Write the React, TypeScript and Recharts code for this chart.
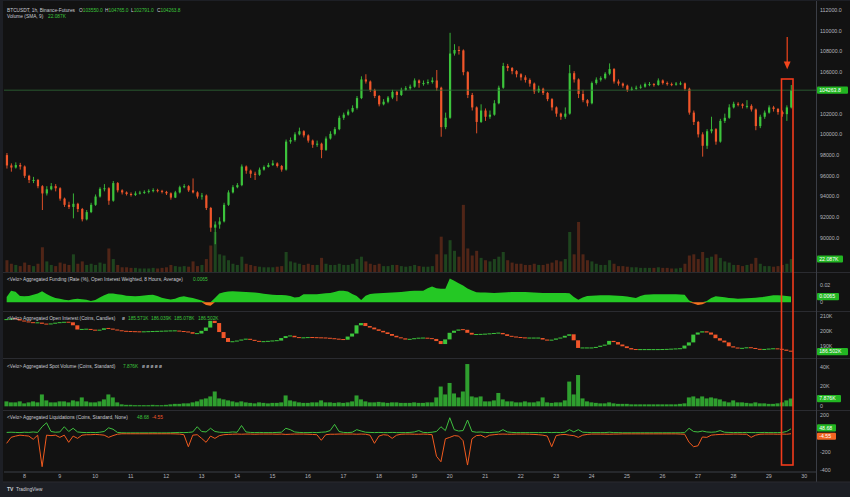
import React from 'react';
import { ComposedChart, Bar, Area, Line, XAxis, YAxis, ReferenceLine } from 'recharts';

// ---------- data (3-hour steps) ----------
const FIRST_OPEN = 98000;
const START_DAY = 7.5;
const STEP_DAY = 0.125;

const closes = [
  97000, 96800, 97040, 96900, 96000, 95600, 95600, 95000, 94300, 94700,
  95000, 94800, 93800, 93200, 93000, 93300, 92800, 91800, 92500, 93200,
  94000, 94750, 94800, 93600, 95300, 94600, 94400, 94250, 94150, 94300,
  94380, 94450, 94550, 94620, 94550, 94450, 94310, 93900, 94400, 94900,
  95000, 94600, 94400, 94000, 94100, 92900, 91000, 91300, 91600, 93200,
  94400, 94900, 95100, 96900, 96500, 96200, 96100, 96600, 96850, 97050,
  97200, 96950, 96600, 99300, 99450, 100000, 100300, 99900, 99400, 99000,
  99100, 98500, 99600, 100050, 100500, 101600, 101900, 102200, 102550, 103500,
  105300, 105100, 104280, 103700, 102900, 103150, 103550, 104100, 103800, 104300,
  104450, 104600, 105200, 104950, 104950, 105050, 105200, 104500, 100700, 101600,
  107800, 108140, 108100, 106000, 103800, 102600, 101200, 102300, 101700, 101900,
  103000, 104500, 106600, 106400, 106100, 105800, 105500, 105250, 104900, 104150,
  104400, 104000, 103400, 102600, 102000, 101700, 102000, 105900, 105300, 103900,
  103300, 103000, 104950, 105280, 105420, 105850, 106300, 105100, 104900, 104700,
  104300, 104400, 104500, 104600, 104850, 104850, 104760, 105200, 104950, 104850,
  104800, 104900, 104920, 104400, 102100, 101200, 100000, 98900, 100300, 100500,
  99300, 101300, 101600, 102600, 102950, 102900, 102750, 102750, 102400, 100800,
  101700, 102100, 102600, 102450, 102150, 101950, 102600, 104263.8,
];

const highs = [
  98200, 97200, 97300, 97250, 97000, 96100, 95900, 95700, 95100, 95000,
  95300, 95200, 94900, 93900, 93500, 94300, 93400, 92900, 92700, 93400,
  94200, 94900, 95200, 94900, 95500, 95400, 94700, 94500, 94400, 94500,
  94550, 94600, 94700, 94800, 94750, 94650, 94550, 94400, 94550, 95050,
  95200, 95100, 95750, 94500, 94350, 94200, 93000, 91600, 92000, 93400,
  94600, 95100, 95300, 97100, 97000, 96600, 96400, 96800, 97000, 97250,
  97500, 97300, 97050, 99500, 99700, 100200, 100650, 100400, 100000, 99500,
  99400, 99200, 99800, 100300, 100700, 101800, 102100, 102400, 102800, 103700,
  105600, 105800, 105200, 104400, 103800, 103400, 103700, 104300, 104200, 104500,
  104650, 104800, 105400, 105300, 105200, 105300, 105500, 106210, 104600, 102100,
  109800, 108700, 108500, 108200, 106100, 104000, 102700, 102900, 102500, 102300,
  103300, 104700, 106900, 106800, 106500, 106200, 105900, 105700, 105400, 105000,
  104700, 104500, 104100, 103500, 102700, 102100, 102600, 106700, 106100, 105400,
  104300, 103400, 105100, 105500, 105600, 106000, 106850, 106400, 105300, 105000,
  104800, 104600, 104700, 104800, 105000, 105050, 104950, 105400, 105300, 105100,
  105000, 105050, 105100, 105000, 104500, 102300, 101300, 100200, 100500, 101700,
  100600, 101500, 102000, 102900, 103150, 103100, 103000, 103300, 102900, 102500,
  101900, 102300, 102800, 102750, 102550, 102300, 102800, 104765,
];

const lows = [
  96700, 96400, 96700, 96600, 95800, 95300, 95300, 94800, 92700, 94100,
  94600, 94500, 93600, 93000, 92800, 91900, 92500, 91600, 91700, 92400,
  93100, 93900, 94500, 93200, 93500, 94400, 94200, 94100, 94000, 94050,
  94200, 94250, 94300, 94400, 94400, 94300, 94150, 93700, 93850, 94300,
  94800, 94450, 94300, 93800, 93700, 92700, 90600, 89400, 90900, 91500,
  93100, 94300, 94800, 95000, 96200, 95800, 95600, 96000, 96500, 96800,
  96950, 96800, 96400, 96500, 99100, 99300, 99900, 99700, 99200, 98700,
  98800, 97700, 98400, 99500, 99900, 100400, 101400, 101800, 102100, 102400,
  103400, 104900, 104100, 103500, 102700, 102800, 103000, 103400, 103200, 103700,
  104200, 104300, 104500, 104500, 104700, 104800, 104900, 104200, 99770, 100500,
  101500, 107600, 107700, 105700, 103500, 102300, 100100, 101100, 101300, 101500,
  101800, 102900, 104400, 106100, 105800, 105500, 105200, 105000, 104600, 103900,
  104000, 103800, 103200, 102300, 101700, 101400, 101500, 101900, 105000, 103500,
  103100, 102700, 102900, 104800, 105100, 105300, 105700, 104900, 104700, 104500,
  104100, 104200, 104300, 104400, 104500, 104650, 104600, 104700, 104800, 104700,
  104650, 104700, 104750, 104200, 101900, 100900, 99700, 97850, 98600, 100100,
  99000, 99200, 101100, 101500, 102500, 102700, 102500, 102500, 102200, 100400,
  100600, 101500, 102000, 102200, 101900, 101700, 101300, 102500,
];

// volume, thousands of BTC
const volumes = [
  20, 14, 12, 10, 16, 12, 10, 14, 42, 18,
  12, 10, 16, 14, 12, 30, 14, 18, 12, 14,
  12, 16, 14, 40, 22, 12, 8, 8, 7, 7,
  6, 6, 6, 7, 6, 7, 8, 12, 10, 9,
  10, 9, 18, 10, 12, 22, 45, 68, 30, 28,
  20, 14, 12, 26, 14, 12, 10, 9, 8, 8,
  8, 9, 10, 34, 18, 16, 14, 12, 14, 12,
  12, 24, 14, 12, 12, 14, 12, 12, 14, 22,
  26, 18, 14, 12, 14, 10, 10, 12, 12, 10,
  9, 10, 12, 10, 9, 9, 10, 30, 60, 30,
  54, 36, 26, 114, 40, 28, 36, 24, 20, 18,
  22, 26, 34, 20, 16, 14, 14, 12, 12, 14,
  12, 12, 14, 16, 20, 18, 22, 68, 30, 85,
  30, 20, 18, 14, 12, 12, 20, 14, 10, 10,
  9, 8, 8, 7, 7, 7, 7, 8, 7, 7,
  6, 6, 7, 14, 28, 30, 22, 34, 24, 26,
  30, 24, 18, 16, 12, 12, 10, 12, 14, 24,
  14, 10, 10, 9, 10, 12, 14, 22,
];

// funding rate, %
const funding = [
  0.006, 0.013, 0.012, 0.007, 0.0068, 0.0072, 0.0086, 0.01, 0.0125, 0.0095,
  0.0068, 0.005, 0.004, 0.0028, 0.0023, 0.0035, 0.004, 0.0035, 0.003, 0.0015,
  0.0025, 0.0055, 0.008, 0.01, 0.01, 0.009, 0.0085, 0.0075, 0.007, 0.0068,
  0.0072, 0.0078, 0.0082, 0.0086, 0.007, 0.0052, 0.004, 0.0032, 0.004, 0.006,
  0.0068, 0.0058, 0.0049, 0.0035, 0.002, -0.003, -0.004, 0.005, 0.01, 0.0115,
  0.0122, 0.0125, 0.0122, 0.012, 0.0117, 0.0114, 0.011, 0.0106, 0.0098, 0.0092,
  0.0086, 0.0084, 0.0082, 0.0079, 0.007, 0.0055, 0.006, 0.0091, 0.0091, 0.0091,
  0.0091, 0.0098, 0.0102, 0.0106, 0.0118, 0.013, 0.013, 0.0122, 0.0095, 0.007,
  0.0025, 0.0075, 0.0095, 0.01, 0.0103, 0.0106, 0.0109, 0.0112, 0.0115, 0.0117,
  0.0122, 0.0128, 0.0132, 0.0132, 0.0132, 0.016, 0.018, 0.016, 0.0155, 0.0155,
  0.027, 0.0245, 0.0215, 0.019, 0.0158, 0.0135, 0.0115, 0.0112, 0.011, 0.0108,
  0.0106, 0.0108, 0.011, 0.0115, 0.0117, 0.0117, 0.0117, 0.0117, 0.0115, 0.0112,
  0.0108, 0.0106, 0.0106, 0.0106, 0.0106, 0.0106, 0.0106, 0.0104, 0.006, 0.003,
  0.0055, 0.007, 0.0074, 0.0078, 0.0079, 0.0079, 0.0079, 0.0077, 0.0073, 0.007,
  0.0065, 0.0056, 0.005, 0.007, 0.0086, 0.0088, 0.009, 0.0091, 0.0091, 0.0091,
  0.0091, 0.009, 0.0088, 0.0086, 0.002, -0.0015, -0.003, -0.0023, 0.0015, 0.005,
  0.0068, 0.0062, 0.0057, 0.005, 0.0045, 0.0041, 0.0044, 0.0047, 0.0049, 0.0052,
  0.0056, 0.0062, 0.0072, 0.0079, 0.0079, 0.0076, 0.007, 0.0065,
];

// open interest, thousands of coins
const openInterest = [
  207.8, 208.6, 208.2, 207.2, 206.5, 206.0, 205.5, 205.8, 205.0, 204.6,
  205.2, 205.6, 205.9, 206.1, 206.0, 204.0, 201.2, 201.3, 201.5, 201.0,
  200.5, 201.0, 202.0, 201.8, 201.1, 200.6, 200.1, 199.9, 199.8, 199.7,
  199.6, 199.7, 199.8, 199.9, 200.0, 200.1, 200.2, 200.3, 200.3, 200.0,
  199.7, 199.4, 198.4, 198.5, 200.3, 202.5, 207.0, 205.5, 199.5, 195.5,
  192.9, 193.2, 193.8, 194.5, 195.0, 194.3, 193.6, 193.0, 193.2, 193.4,
  193.7, 193.8, 195.5, 196.8, 197.0, 196.0, 195.6, 195.7, 195.9, 195.8,
  195.7, 195.6, 195.5, 195.2, 194.9, 194.6, 194.4, 196.5, 198.5, 204.0,
  205.5, 203.5, 202.5, 201.3, 200.3, 199.3, 198.2, 197.0, 196.0, 195.3,
  194.5, 194.8, 195.3, 195.5, 195.5, 195.3, 194.9, 193.5, 191.5, 194.6,
  199.0, 200.4, 201.2, 201.0, 199.0, 197.8, 197.9, 198.0, 198.2, 198.4,
  198.7, 198.9, 198.0, 196.9, 196.4, 196.0, 195.7, 195.5, 195.5, 195.5,
  195.5, 194.5, 193.8, 194.4, 195.2, 195.8, 197.0, 198.0, 194.0, 188.9,
  188.9, 188.9, 188.9, 189.6, 190.4, 191.1, 193.6, 192.8, 191.2, 190.0,
  188.8, 187.9, 187.8, 187.8, 187.8, 187.8, 187.8, 187.8, 187.9, 188.0,
  188.2, 188.3, 188.5, 190.5, 192.6, 197.8, 199.2, 200.0, 199.2, 197.8,
  195.4, 193.8, 192.6, 190.0, 189.2, 188.5, 188.8, 189.2, 188.9, 188.2,
  187.8, 188.0, 188.3, 188.4, 188.2, 187.8, 187.0, 186.502,
];

// spot volume, thousands of coins
const spotVolume = [
  5, 4, 4, 5, 3, 4, 5, 4, 12, 6,
  4, 4, 5, 5, 4, 6, 5, 9, 5, 4,
  4, 5, 7, 12, 9, 4, 2, 1.5, 1.5, 1.2,
  1.2, 1.2, 1.2, 1.5, 1.2, 1.2, 1.5, 2, 2.5, 2.5,
  3, 3, 4, 5, 7, 8, 10, 15, 8, 7,
  6, 5, 4, 5, 4, 3.5, 3, 4, 3.5, 3,
  3.5, 3.5, 4, 11, 6, 5, 4, 3.5, 3.5, 4,
  4, 6, 4, 4, 3.5, 4, 3.5, 4, 5, 11,
  7, 5, 4, 4, 4.5, 4, 3.5, 4, 4, 3.5,
  3.5, 3.5, 4, 3.5, 3.5, 4, 4, 9, 20, 12,
  23.6, 13, 9, 15, 42.7, 10, 9, 10, 5, 5,
  6, 13.5, 7, 5, 5, 4, 4, 5, 4, 4,
  5, 9, 4, 3.5, 4, 4, 6, 25, 12, 31.6,
  8, 5, 4, 3.5, 3, 3, 4, 3, 2.5, 2.5,
  2.5, 2, 2, 2, 2, 2, 2, 2, 2, 2,
  2, 2, 2.5, 3, 9, 10, 8, 10, 8, 9,
  8, 7, 5, 4, 6, 4, 4, 3.5, 3, 4,
  3, 3, 2.5, 2.5, 3, 4, 6, 7.876,
];

// liquidations, coins
const liqShorts = [
  10, 12, 10, 8, 12, 10, 15, 10, 72, 115,
  20, 12, 15, 72, 20, 55, 15, 10, 8, 10,
  8, 12, 20, 60, 45, 10, 6, 5, 5, 5,
  5, 5, 5, 6, 5, 5, 5, 6, 8, 10,
  8, 10, 15, 72, 20, 15, 55, 20, 12, 10,
  10, 15, 12, 85, 15, 10, 8, 10, 8, 8,
  8, 10, 12, 55, 40, 15, 10, 8, 8, 10,
  8, 12, 15, 30, 98, 20, 10, 8, 12, 40,
  25, 12, 10, 8, 10, 8, 8, 10, 8, 8,
  8, 10, 15, 30, 10, 8, 12, 20, 72, 30,
  170, 40, 25, 30, 145, 20, 12, 15, 10, 8,
  12, 15, 40, 15, 10, 8, 8, 8, 8, 8,
  8, 8, 10, 8, 10, 8, 12, 40, 15, 40,
  12, 10, 8, 8, 8, 8, 12, 8, 8, 6,
  6, 6, 6, 6, 6, 6, 6, 6, 6, 6,
  6, 6, 6, 8, 55, 20, 15, 25, 15, 12,
  15, 30, 12, 10, 8, 10, 8, 10, 8, 8,
  8, 10, 8, 8, 8, 10, 20, 48.68,
];

const liqLongs = [
  -109, -44, -30, -20, -25, -30, -65, -20, -364, -20,
  -25, -20, -44, -20, -98, -30, -55, -20, -15, -15,
  -12, -15, -20, -44, -25, -10, -5, -5, -5, -5,
  -5, -5, -5, -5, -5, -5, -5, -5, -6, -8,
  -15, -146, -20, -15, -55, -98, -30, -55, -25, -15,
  -12, -10, -8, -10, -8, -8, -10, -8, -8, -8,
  -8, -10, -8, -12, -10, -8, -8, -8, -10, -12,
  -15, -76, -15, -10, -10, -8, -8, -8, -8, -10,
  -8, -10, -20, -109, -30, -15, -20, -55, -20, -10,
  -8, -8, -10, -10, -8, -10, -15, -250, -310, -60,
  -44, -25, -30, -80, -346, -60, -25, -20, -44, -20,
  -15, -10, -8, -10, -10, -8, -8, -8, -10, -12,
  -15, -20, -30, -146, -25, -15, -12, -20, -25, -44,
  -20, -12, -8, -8, -8, -8, -10, -8, -8, -6,
  -6, -6, -6, -6, -6, -6, -6, -6, -6, -6,
  -6, -6, -8, -10, -98, -146, -136, -40, -44, -20,
  -15, -12, -10, -10, -8, -8, -10, -10, -44, -20,
  -10, -8, -8, -8, -10, -8, -10, -4.55,
];

const dayTicks = [8, 9, 10, 11, 12, 13, 14, 15, 16, 17, 18, 19, 20, 21, 22, 23, 24, 25, 26, 27, 28, 29, 30];
const priceTicks = [90000, 92000, 94000, 96000, 98000, 100000, 102000, 106000, 108000, 110000, 112000];
const fundingTicks = [0, 0.02];
const oiTicks = [190, 200, 210];
const spotTicks = [0, 20, 40];
const liqTicks = [-400, -200, 200];

const LAST = { price: 104263.8, volume: 22.087, funding: 0.0065, oi: 186.502, spot: 7.876, liqS: 48.68, liqL: -4.55 };

// ---------- styles ----------
const FONT = '"Liberation Sans", Arial, sans-serif';
const UP = '#3cc43c';
const DOWN = '#f0562a';
const GREEN_TAG = '#22b622';
const ORANGE_TAG = '#f26522';
const TXT = '#c9ccd3';
const AXIS_TXT = '#b2b5be';
const X_DOMAIN: [number, number] = [7.425, 30.33];
const MARGIN = { top: 0, right: 0, bottom: 0, left: 4 };
const MARGIN_NOAXIS = { top: 0, right: 34, bottom: 0, left: 4 };
const tickStyle = { fill: AXIS_TXT, fontSize: 5.3, fontFamily: FONT };

const rows = closes.map((c, i) => {
  const o = i === 0 ? FIRST_OPEN : closes[i - 1];
  const oiO = i === 0 ? openInterest[0] : openInterest[i - 1];
  const oiC = openInterest[i];
  return {
    t: START_DAY + i * STEP_DAY,
    open: o,
    close: c,
    high: highs[i],
    low: lows[i],
    wick: [lows[i], highs[i]],
    up: c >= o,
    vol: volumes[i],
    fPos: Math.max(funding[i], 0),
    fNeg: Math.min(funding[i], 0),
    oiBody: [Math.min(oiO, oiC), Math.max(oiO, oiC)],
    oiUp: oiC >= oiO,
    spot: spotVolume[i],
    liqS: liqShorts[i],
    liqL: liqLongs[i],
  };
});

const Candle = (p: any) => {
  const { x, y, width, height, payload } = p;
  if (!payload || !isFinite(y) || !isFinite(height)) return null;
  const { open, close, high, low } = payload;
  const color = close >= open ? UP : DOWN;
  const ratio = height / (high - low);
  const top = y + (high - Math.max(open, close)) * ratio;
  const bh = Math.max(1, Math.abs(open - close) * ratio);
  const cx = x + width / 2;
  return (
    <g>
      <line x1={cx} x2={cx} y1={y} y2={y + height} stroke={color} strokeWidth={0.9} />
      <rect x={cx - 1.1} y={top} width={2.2} height={bh} fill={color} />
    </g>
  );
};

const OiCandle = (p: any) => {
  const { x, y, width, height, payload } = p;
  if (!payload || !isFinite(y)) return null;
  const h = Math.max(1, height || 0);
  const yy = (height || 0) < 1 ? y - (1 - (height || 0)) / 2 : y;
  return <rect x={x} y={yy} width={width} height={h} fill={payload.oiUp ? UP : DOWN} />;
};

const VolBar = (p: any) => {
  const { x, y, width, height, payload } = p;
  if (!payload || !isFinite(y) || height <= 0) return null;
  return <rect x={x} y={y} width={width} height={height} fill={payload.up ? '#2f8a2f' : '#a8401e'} fillOpacity={0.42} />;
};

const SpotBar = (p: any) => {
  const { x, y, width, height } = p;
  if (!isFinite(y) || height <= 0) return null;
  return <rect x={x} y={y} width={width} height={height} fill="#2f9f2f" />;
};

function tag(text: string, bg: string, w: number, dy = 0) {
  return (props: any) => {
    const vb = props.viewBox || {};
    const x = (vb.x ?? 0) + (vb.width ?? 0) + 1;
    const y = (vb.y ?? 0) + dy;
    return (
      <g>
        <rect x={x} y={y - 3.6} width={w} height={7.2} rx={1} fill={bg} />
        <text x={x + 2.2} y={y} dy="0.35em" fontSize={5.2} fill="#ffffff" fontFamily={FONT}>
          {text}
        </text>
      </g>
    );
  };
}

const xAxisHidden = <XAxis type="number" dataKey="t" domain={X_DOMAIN} allowDataOverflow hide />;

function rightAxis(domain: [number, number], ticks: number[], fmt: (v: number) => string) {
  return (
    <YAxis
      orientation="right"
      width={34}
      domain={domain}
      ticks={ticks}
      allowDataOverflow
      interval={0}
      tickFormatter={fmt}
      tick={tickStyle}
      tickLine={false}
      tickSize={0}
      tickMargin={4}
      axisLine={false}
    />
  );
}

const abs = (top: number): React.CSSProperties => ({ position: 'absolute', left: 0, top });

export default function App() {
  return (
    <div
      style={{
        position: 'absolute',
        left: 0,
        top: 0,
        width: 850,
        height: 497,
        background: '#1d1f25',
        overflow: 'hidden',
        fontFamily: FONT,
      }}
    >
      <div style={{ position: 'absolute', left: 3, top: 1, width: 847, height: 481, background: '#121212' }} />

      {/* main pane: volume underlay */}
      <div style={abs(0)}>
        <ComposedChart width={850} height={272} data={rows} margin={MARGIN_NOAXIS}>
          {xAxisHidden}
          <YAxis hide domain={[0, 462]} allowDataOverflow />
          <ReferenceLine y={LAST.volume} stroke="none" label={tag('22.087K', GREEN_TAG, 26)} />
          <Bar dataKey="vol" barSize={3} shape={VolBar} isAnimationActive={false} />
        </ComposedChart>
      </div>

      {/* main pane: price candles */}
      <div style={abs(0)}>
        <ComposedChart width={850} height={272} data={rows} margin={MARGIN}>
          {xAxisHidden}
          {rightAxis([86720, 112965], priceTicks, (v) => v.toFixed(1))}
          <ReferenceLine
            y={LAST.price}
            stroke="#2e6b36"
            strokeWidth={0.8}
            label={tag('104263.8', GREEN_TAG, 31)}
          />
          <Bar dataKey="wick" barSize={3} shape={Candle} isAnimationActive={false} />
        </ComposedChart>
      </div>

      {/* funding pane */}
      <div style={abs(272)}>
        <ComposedChart width={850} height={39} data={rows} margin={MARGIN}>
          {xAxisHidden}
          {rightAxis([-0.0099, 0.0344], fundingTicks, (v) => (v === 0 ? '0' : String(v)))}
          <Area dataKey="fPos" type="linear" stroke="none" fill="#24c824" fillOpacity={1} isAnimationActive={false} />
          <Area dataKey="fNeg" type="linear" stroke="none" fill="#f7731f" fillOpacity={1} isAnimationActive={false} />
          <ReferenceLine y={LAST.funding} stroke="none" label={tag('0.0065', GREEN_TAG, 22)} />
        </ComposedChart>
      </div>

      {/* open interest pane */}
      <div style={abs(311)}>
        <ComposedChart width={850} height={47} data={rows} margin={MARGIN}>
          {xAxisHidden}
          {rightAxis([182.2, 213.53], oiTicks, (v) => `${v}K`)}
          <Bar dataKey="oiBody" barSize={5} shape={OiCandle} isAnimationActive={false} />
          <ReferenceLine y={LAST.oi} stroke="none" label={tag('186.502K', GREEN_TAG, 31)} />
        </ComposedChart>
      </div>

      {/* spot volume pane */}
      <div style={abs(358)}>
        <ComposedChart width={850} height={52} data={rows} margin={MARGIN}>
          {xAxisHidden}
          {rightAxis([-3.7, 48.8], spotTicks, (v) => (v === 0 ? '0' : `${v}K`))}
          <Bar dataKey="spot" barSize={4} shape={SpotBar} isAnimationActive={false} />
          <ReferenceLine y={LAST.spot} stroke="none" label={tag('7.876K', GREEN_TAG, 24)} />
        </ComposedChart>
      </div>

      {/* liquidations pane + time axis */}
      <div style={abs(410)}>
        <ComposedChart width={850} height={72} data={rows} margin={MARGIN}>
          <XAxis
            type="number"
            dataKey="t"
            domain={X_DOMAIN}
            allowDataOverflow
            ticks={dayTicks}
            interval={0}
            height={10}
            tick={tickStyle}
            tickLine={false}
            tickSize={0}
            tickMargin={2}
            axisLine={{ stroke: '#3b3e46' }}
          />
          {rightAxis([-421.8, 254.5], liqTicks, (v) => String(v))}
          <Line dataKey="liqS" type="linear" stroke="#3fbf3f" strokeWidth={1} dot={false} isAnimationActive={false} />
          <Line dataKey="liqL" type="linear" stroke="#f05a1e" strokeWidth={1} dot={false} isAnimationActive={false} />
          <ReferenceLine y={LAST.liqS} stroke="none" label={tag('48.68', GREEN_TAG, 19, -1)} />
          <ReferenceLine y={LAST.liqL} stroke="none" label={tag('-4.55', ORANGE_TAG, 19, 2.5)} />
        </ComposedChart>
      </div>

      {/* overlay: separators, legends, annotation */}
      <svg width={850} height={497} style={{ position: 'absolute', left: 0, top: 0, pointerEvents: 'none' }}>
        <g stroke="#2a2b30" strokeWidth={1}>
          <line x1={3} x2={850} y1={272.5} y2={272.5} />
          <line x1={3} x2={850} y1={311.5} y2={311.5} />
          <line x1={3} x2={850} y1={358.5} y2={358.5} />
          <line x1={3} x2={850} y1={410.5} y2={410.5} />
        </g>
        <line x1={816.5} x2={816.5} y1={1} y2={482} stroke="#3b3e46" strokeWidth={1} />
        <line x1={3} x2={850} y1={482} y2={482} stroke="#2a2b30" strokeWidth={1} />

        <g fontFamily={FONT} fontSize={4.8} dominantBaseline="central">
          <text x={7} y={10} fill={TXT}>BTCUSDT, 1h, Binance-Futures</text>
          <text x={79} y={10} fill={TXT}>O<tspan fill={UP}>103550.0</tspan></text>
          <text x={105} y={10} fill={TXT}>H<tspan fill={UP}>104765.0</tspan></text>
          <text x={131} y={10} fill={TXT}>L<tspan fill={UP}>102791.0</tspan></text>
          <text x={157} y={10} fill={TXT}>C<tspan fill={UP}>104263.8</tspan></text>
          <text x={7} y={16} fill={TXT}>Volume (SMA, 9)</text>
          <text x={48} y={16} fill={UP}>22.087K</text>

          <text x={7} y={279} fill={TXT}>
            {'<Velo> Aggregated Funding (Rate (%), Open Interest Weighted, 8 Hours, Average)'}
          </text>
          <text x={193} y={279} fill={UP}>0.0065</text>

          <text x={7} y={318} fill={TXT}>{'<Velo> Aggregated Open Interest (Coins, Candles)'}</text>
          <text x={122} y={318} fill={TXT}>ø</text>
          <text x={128} y={318} fill={UP}>185.571K</text>
          <text x={151} y={318} fill={UP}>186.039K</text>
          <text x={174} y={318} fill={UP}>185.078K</text>
          <text x={198} y={318} fill={UP}>186.502K</text>

          <text x={7} y={366} fill={TXT}>{'<Velo> Aggregated Spot Volume (Coins, Standard)'}</text>
          <text x={123} y={366} fill={UP}>7.876K</text>
          <text x={142} y={366} fill={TXT}>ø ø ø ø ø</text>

          <text x={7} y={417} fill={TXT}>{'<Velo> Aggregated Liquidations (Coins, Standard, None)'}</text>
          <text x={137} y={417} fill={UP}>48.68</text>
          <text x={152} y={417} fill={DOWN}>-4.55</text>

          <text x={7} y={489} fill="#d1d4dc" fontWeight="bold" fontSize={5}>TV</text>
          <text x={16} y={489} fill="#d1d4dc">TradingView</text>
        </g>

        <rect x={781.5} y={79} width={11.5} height={386} fill="none" stroke="#f23b1c" strokeWidth={1.6} />
        <line x1={787.2} x2={787.2} y1={37} y2={63} stroke="#f2451c" strokeWidth={1.2} />
        <polygon points="783.8,61.5 790.6,61.5 787.2,69.3" fill="#f2451c" />
      </svg>
    </div>
  );
}
